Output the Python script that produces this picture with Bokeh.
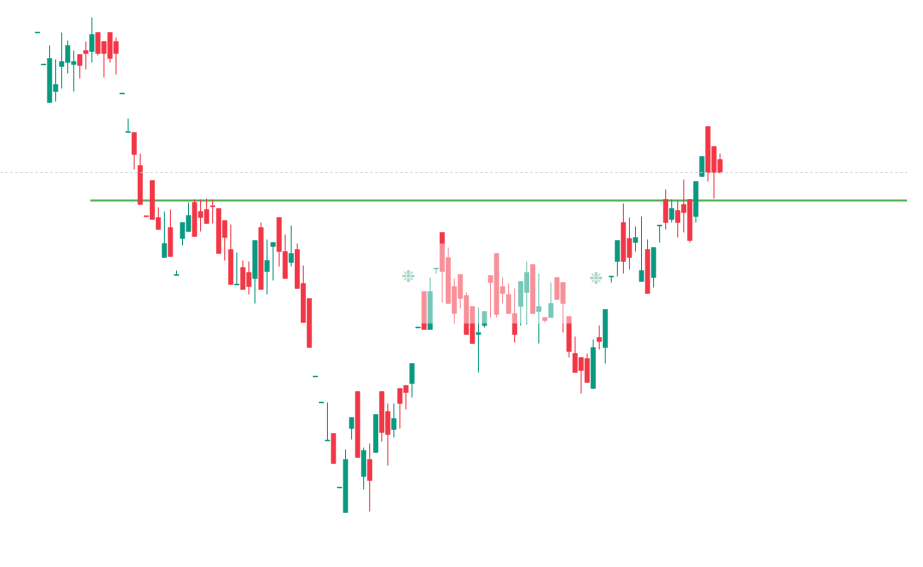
from bokeh.plotting import figure
from bokeh.models import Range1d, ColumnDataSource, Span
from bokeh.embed import file_html
from bokeh.resources import INLINE
from bokeh.core.properties import value

# Daily OHLC prices
open_ = [3036, 2972, 2896, 2918, 2968, 2976, 2972, 2992, 3000, 2998,
         3036, 3018, 3036, 3018, 2914, 2837, 2836, 2770, 2669, 2740,
         2666, 2586, 2646, 2551, 2624, 2638, 2696, 2678, 2682, 2689,
         2684, 2660, 2602, 2532, 2566, 2556, 2544, 2646, 2558, 2608,
         2666, 2598, 2576, 2602, 2534, 2504, 2348, 2296, 2220, 2234,
         2126, 2076, 2244, 2318, 2148, 2182, 2196, 2318, 2278, 2242,
         2324, 2330, 2334, 2446, 2518, 2442, 2564, 2636, 2586, 2528,
         2552, 2510, 2488, 2432, 2450, 2550, 2594, 2528, 2512, 2474,
         2488, 2516, 2572, 2478, 2466, 2466, 2546, 2536, 2468, 2394,
         2386, 2384, 2324, 2426, 2406, 2548, 2578, 2656, 2624, 2616,
         2538, 2602, 2546, 2650, 2702, 2662, 2680, 2692, 2702, 2668,
         2748, 2848, 2808, 2782]
high = [3036, 2972, 3010, 2982, 3036, 3020, 3000, 2992, 3018, 3066,
        3036, 3018, 3036, 3026, 2914, 2864, 2836, 2794, 2669, 2740,
        2686, 2678, 2682, 2560, 2656, 2696, 2702, 2702, 2704, 2702,
        2684, 2660, 2652, 2596, 2580, 2578, 2620, 2656, 2622, 2616,
        2666, 2632, 2650, 2614, 2570, 2504, 2348, 2296, 2296, 2234,
        2126, 2202, 2266, 2318, 2206, 2214, 2272, 2318, 2294, 2294,
        2324, 2330, 2374, 2446, 2518, 2546, 2564, 2636, 2606, 2544,
        2552, 2516, 2488, 2486, 2478, 2550, 2594, 2546, 2534, 2524,
        2538, 2578, 2572, 2554, 2466, 2536, 2546, 2536, 2468, 2428,
        2386, 2394, 2422, 2450, 2482, 2548, 2620, 2694, 2666, 2648,
        2668, 2622, 2606, 2650, 2722, 2702, 2700, 2742, 2702, 2738,
        2788, 2848, 2808, 2794]
low = [3036, 2972, 2896, 2898, 2924, 2954, 2918, 2944, 2962, 2976,
       2990, 2946, 2976, 2952, 2914, 2837, 2762, 2692, 2668, 2662,
       2642, 2586, 2588, 2551, 2610, 2638, 2628, 2638, 2654, 2654,
       2594, 2580, 2532, 2532, 2522, 2512, 2494, 2522, 2512, 2540,
       2568, 2544, 2568, 2524, 2456, 2406, 2348, 2296, 2220, 2174,
       2126, 2076, 2222, 2186, 2122, 2078, 2196, 2218, 2170, 2226,
       2244, 2282, 2306, 2446, 2442, 2442, 2554, 2496, 2494, 2454,
       2484, 2432, 2414, 2356, 2446, 2466, 2466, 2494, 2474, 2416,
       2450, 2452, 2474, 2414, 2456, 2466, 2502, 2436, 2386, 2356,
       2314, 2336, 2324, 2402, 2374, 2536, 2548, 2554, 2562, 2598,
       2538, 2514, 2526, 2616, 2642, 2656, 2626, 2636, 2616, 2656,
       2748, 2738, 2704, 2754]
close = [3036, 2972, 2984, 2932, 2978, 3010, 2978, 2970, 2994, 3032,
         2994, 2994, 2984, 2994, 2914, 2837, 2792, 2692, 2668, 2662,
         2642, 2614, 2588, 2551, 2656, 2670, 2628, 2666, 2654, 2688,
         2594, 2626, 2532, 2532, 2522, 2528, 2620, 2522, 2580, 2616,
         2598, 2544, 2594, 2524, 2456, 2406, 2348, 2296, 2220, 2174,
         2126, 2182, 2266, 2186, 2200, 2140, 2272, 2236, 2232, 2264,
         2294, 2316, 2374, 2446, 2442, 2518, 2564, 2558, 2494, 2474,
         2504, 2432, 2414, 2436, 2478, 2536, 2472, 2514, 2474, 2432,
         2538, 2556, 2474, 2488, 2460, 2494, 2502, 2494, 2398, 2356,
         2360, 2336, 2406, 2418, 2482, 2548, 2620, 2578, 2586, 2626,
         2560, 2514, 2606, 2650, 2656, 2684, 2656, 2676, 2620, 2738,
         2788, 2756, 2756, 2756]

level_price = 2700     # horizontal green level
level_start = 9        # candle index where the level begins

UP = "#089981"
DOWN = "#f23645"

n = len(open_)
xs = list(range(n))
body_top, body_bot, colors = [], [], []
for o, c in zip(open_, close):
    t, b = max(o, c), min(o, c)
    if t - b < 2:
        m = (t + b) / 2
        t, b = m + 1, m - 1
    body_top.append(t)
    body_bot.append(b)
    colors.append(UP if c >= o else DOWN)

src = ColumnDataSource(dict(x=xs, high=high, low=low, top=body_top,
                            bottom=body_bot, color=colors))

x0, x1 = -6.13, 144.04
y0, y1 = 1998, 3100

p = figure(width=907, height=551, output_backend="svg", toolbar_location=None,
           x_range=Range1d(x0, x1), y_range=Range1d(y0, y1),
           min_border=0, min_border_left=0, min_border_right=0,
           min_border_top=0, min_border_bottom=0)
p.axis.visible = False
p.xgrid.visible = False
p.ygrid.visible = False
p.outline_line_color = None
p.background_fill_color = "white"
p.border_fill_color = "white"

# last price dotted line
p.add_layout(Span(location=close[-1], dimension="width", line_color="#cfcfcf",
                  line_width=1, line_dash="2 3"))

# level line
p.segment(x0=[level_start - 0.25], y0=[level_price], x1=[x1 + 5], y1=[level_price],
          line_color="#4caf50", line_width=2)

p.segment(x0="x", y0="high", x1="x", y1="low", source=src,
          line_color="color", line_width=1)
p.vbar(x="x", width=0.75, top="top", bottom="bottom", source=src,
       fill_color="color", line_color="color", line_width=0.5)

# watermark fade
p.quad(left=[62.5], right=[93.2], bottom=[2454], top=[2614],
       fill_color="white", fill_alpha=0.45, line_color=None)
p.text(x=[61.4, 92.5], y=[2550, 2546], text=["❉", "❉"],
       text_color="#9fd6cd", text_font_size="17px", text_align="center",
       text_baseline="middle", text_font=value("DejaVu Sans"))

open("out.html", "w").write(file_html(p, INLINE))
